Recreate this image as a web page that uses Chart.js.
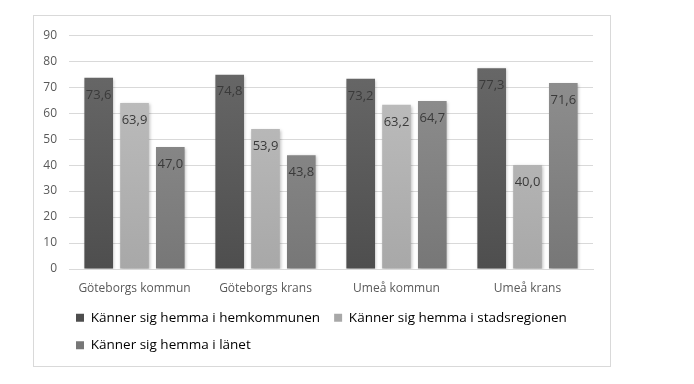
<!DOCTYPE html>
<html>
<head>
<meta charset="utf-8">
<script src="https://cdn.jsdelivr.net/npm/chart.js@4"></script>
<style>
  html, body { margin: 0; padding: 0; background: #fff; }
  body { width: 694px; height: 384px; position: relative; overflow: hidden; }
  #box { position: absolute; left: 33px; top: 15px; width: 576px; height: 350px; border: 1px solid #d9d9d9; }
  #box canvas { display: block; }
</style>
</head>
<body>
<div id="box"><canvas id="barchart" width="576" height="350"></canvas></div>
<script>
const categories = ['Göteborgs kommun', 'Göteborgs krans', 'Umeå kommun', 'Umeå krans'];
const seriesNames = [
  'Känner sig hemma i hemkommunen',
  'Känner sig hemma i stadsregionen',
  'Känner sig hemma i länet'
];
const hemkommunen = [73.6, 74.8, 73.2, 77.3];
const stadsregionen = [63.9, 53.9, 63.2, 40.0];
const lanet = [47.0, 43.8, 64.7, 71.6];
const yMax = 90;
const yStep = 10;

// top / bottom colours of each bar gradient
const shades = [
  ['#6b6b6b', '#4e4e4e'],
  ['#c2c2c2', '#a8a8a8'],
  ['#939393', '#777777']
];

function gradient(i) {
  return (context) => {
    const area = context.chart.chartArea;
    if (!area) return shades[i][1];
    const g = context.chart.ctx.createLinearGradient(0, area.top, 0, area.bottom);
    g.addColorStop(0, shades[i][0]);
    g.addColorStop(1, shades[i][1]);
    return g;
  };
}

Chart.defaults.font.family = "'Open Sans', sans-serif";

// soft shadow behind the bars, value labels inside the top of each bar
const barExtras = {
  id: 'barExtras',
  afterLayout(chart) {
    // legend items start a little right of the canvas edge, like the original
    chart.legend.left += 19;
    chart.legend.right += 19;
  },
  beforeDatasetsDraw(chart) {
    const ctx = chart.ctx;
    ctx.save();
    ctx.shadowColor = 'rgba(0,0,0,0.25)';
    ctx.shadowBlur = 3;
    ctx.shadowOffsetX = 1;
    ctx.shadowOffsetY = 1;
  },
  afterDatasetsDraw(chart) {
    const ctx = chart.ctx;
    ctx.restore();
    ctx.save();
    ctx.font = "13px 'Open Sans', sans-serif";
    ctx.fillStyle = '#3a3a3a';
    ctx.textAlign = 'center';
    ctx.textBaseline = 'middle';
    chart.data.datasets.forEach((ds, i) => {
      chart.getDatasetMeta(i).data.forEach((bar, j) => {
        const txt = ds.data[j].toFixed(1).replace('.', ',');
        ctx.fillText(txt, bar.x, bar.y + 17);
      });
    });
    ctx.restore();
  }
};

const ctx = document.getElementById('barchart');

new Chart(ctx, {
  type: 'bar',
  data: {
    labels: categories,
    datasets: [
      { label: seriesNames[0], data: hemkommunen, backgroundColor: gradient(0) },
      { label: seriesNames[1], data: stadsregionen, backgroundColor: gradient(1) },
      { label: seriesNames[2], data: lanet, backgroundColor: gradient(2) }
    ]
  },
  options: {
    responsive: false,
    animation: false,
    categoryPercentage: 0.82,
    barPercentage: 0.8,
    layout: { padding: { left: 9, right: 17, top: 7, bottom: 4 } },
    plugins: {
      tooltip: { enabled: false },
      legend: {
        position: 'bottom',
        align: 'start',
        labels: {
          boxWidth: 8,
          boxHeight: 8,
          padding: 14,
          color: '#333333',
          font: { size: 13.5 },
          generateLabels(chart) {
            return chart.data.datasets.map((ds, i) => ({
              text: ds.label,
              fillStyle: shades[i][1],
              strokeStyle: shades[i][1],
              lineWidth: 0,
              datasetIndex: i,
              hidden: false
            }));
          }
        }
      }
    },
    scales: {
      x: {
        grid: { display: false, drawTicks: false },
        border: { color: '#d9d9d9' },
        ticks: { color: '#595959', font: { size: 12 }, padding: 12 },
        afterFit(scale) { scale.height = 28; }
      },
      y: {
        min: 0,
        max: yMax,
        grid: { color: '#d9d9d9', drawTicks: false },
        border: { display: false },
        ticks: { stepSize: yStep, color: '#595959', font: { size: 12 }, padding: 12 },
        afterFit(scale) { scale.width = 26; }
      }
    }
  },
  plugins: [barExtras]
});
</script>
</body>
</html>
